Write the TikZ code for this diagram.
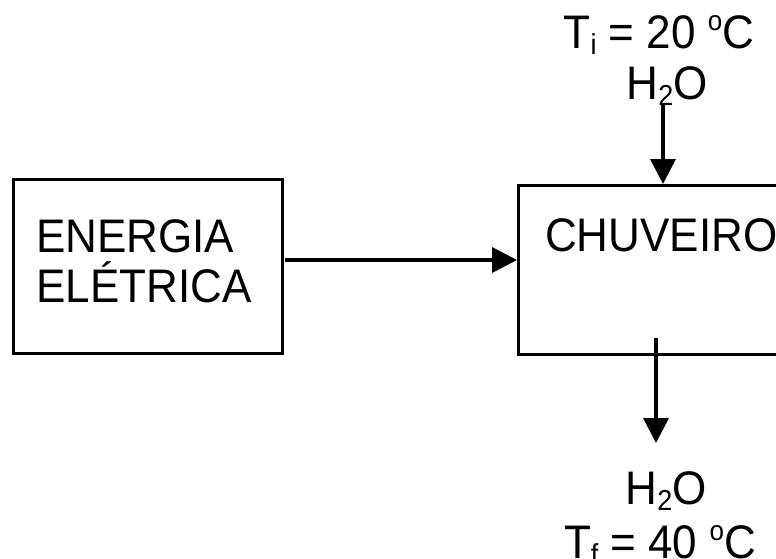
\documentclass[tikz,border=0pt]{standalone}
\usepackage{fontspec}
\setmainfont{Liberation Sans}
\usetikzlibrary{arrows.meta}
\newcommand\stx[1]{\scalebox{1}[1.07]{#1}}
\newcommand\mysub[1]{\raisebox{-6pt}{\fontsize{27}{27}\selectfont #1}}
\newcommand\mysup[1]{\raisebox{16pt}{\fontsize{26}{26}\selectfont #1}}
\begin{document}
\begin{tikzpicture}[x=1pt,y=-1pt,
  boxst/.style={draw, line width=3pt, rectangle, inner sep=0pt},
  txt/.style={font=\fontsize{44}{50}\selectfont, inner sep=0pt},
  arr/.style={line width=3.6pt, -{Triangle[width=25pt,length=25pt]}}]
\useasboundingbox (0,0) rectangle (776,558);
\fill[white] (0,0) rectangle (776,558);
% left box
\node[boxst, minimum width=269pt, minimum height=174pt] (en) at (147.5,266) {};
\node[txt, anchor=base west] (enl1) at (36,252) {\stx{ENERGIA}};
\node[txt, anchor=base west] (enl2) at (36,302) {\stx{ELÉTRICA}};
% right box (extends past the right edge)
\node[boxst, minimum width=283pt, minimum height=169pt, anchor=north west] (ch) at (517,184) {};
\node[txt, anchor=base west] (chl) at (545,251) {\stx{CHUVEIRO}};
% top labels
\node[txt, anchor=base] (ti) at (659,48) {\stx{T\mysub{i} = 20 \mysup{o}C}};
\node[txt, anchor=base] (hin) at (667,99) {\stx{H\mysub{2}O}};
% bottom labels
\node[txt, anchor=base] (hout) at (666,504) {\stx{H\mysub{2}O}};
\node[txt, anchor=base] (tf) at (660,558) {\stx{T\mysub{f} = 40 \mysup{o}C}};
% connector points
\coordinate (cin) at (663,184);
\coordinate (cin0) at (663,105);
\coordinate (cout0) at (656,338);
\coordinate (cout) at (656,443);
\coordinate (chw) at (517,260);
% arrows
\draw[arr] ([xshift=1.5pt]en.east |- chw) -- (chw);
\draw[arr] (cin0) -- (cin);
\draw[arr] (cout0) -- (cout);
\end{tikzpicture}
\end{document}
